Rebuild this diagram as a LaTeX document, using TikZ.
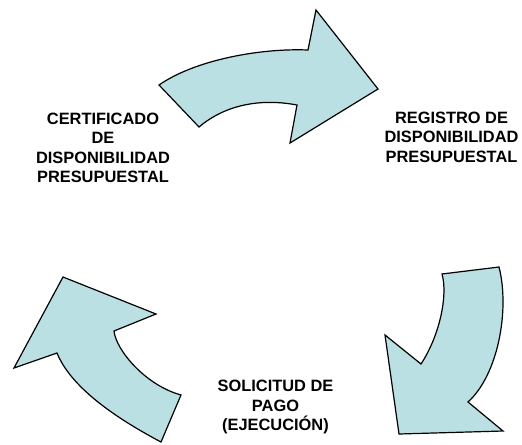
\documentclass[tikz,border=0pt]{standalone}
\usepackage{fontspec}
\setmainfont{Liberation Sans}
\usepackage{xcolor}
\definecolor{flechafill}{RGB}{187,224,227}

\begin{document}
\begin{tikzpicture}[x=0.75pt, y=-0.75pt,
  flecha/.style={fill=flechafill, draw=black, line width=0.9pt},
  etiqueta/.style={font=\bfseries\fontsize{12.3}{14.6}\selectfont, align=center, inner sep=0pt}]
\useasboundingbox (0,0) rectangle (522,444);
% arrow top: CDP -> RDP
\draw[flecha] (159,85) .. controls (195,60) and (260,48) .. (308,50) -- (316,10) -- (378,89) -- (290,143) -- (297,105) .. controls (260,98) and (225,105) .. (199,127) -- cycle;
% arrow right: RDP -> pago
\draw[flecha] (442,274) -- (499,267) .. controls (510,310) and (498,375) .. (468,402) -- (503,431) -- (399,434) -- (385,335) -- (421,364) .. controls (440,335) and (448,295) .. (442,274) -- cycle;
% arrow left: pago -> CDP
\draw[flecha] (181,395) -- (161,442) .. controls (110,415) and (70,385) .. (57,353) -- (14,368) -- (63,277) -- (156,314) -- (114,331) .. controls (116,350) and (145,385) .. (181,395) -- cycle;
\node[etiqueta] (cdp) at (103,148) {CERTIFICADO\\DE\\DISPONIBILIDAD\\PRESUPUESTAL};
\node[etiqueta] (rdp) at (451.5,137) {REGISTRO DE\\DISPONIBILIDAD\\PRESUPUESTAL};
\node[etiqueta] (pago) at (275.5,407) {SOLICITUD DE\\PAGO\\(EJECUCIÓN)};
\end{tikzpicture}
\end{document}
